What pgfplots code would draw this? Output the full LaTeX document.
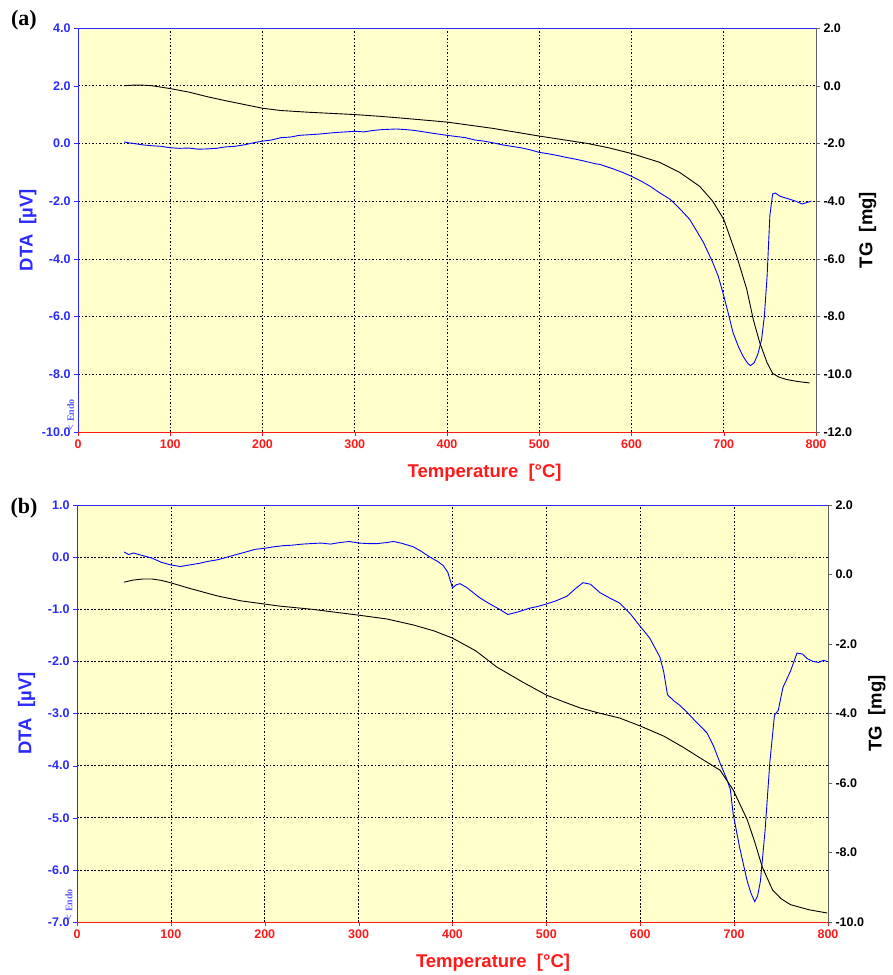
\documentclass[border=0pt]{standalone}
\usepackage{fontspec}
\setmainfont{Liberation Sans}
\newfontfamily\serifb{Liberation Serif}
\usepackage{pgfplots}
\pgfplotsset{compat=1.18}

\definecolor{bgyel}{HTML}{FFFFCC}
\definecolor{dtablue}{HTML}{2B2BFF}
\definecolor{tempred}{HTML}{FF1A1A}
\definecolor{axgray}{HTML}{606060}

\tikzset{endo/.style={rotate=90, anchor=west, text=dtablue!75,
    font=\fontsize{10}{10}\selectfont\serifb\bfseries, inner sep=0pt}}

\pgfplotsset{
  baseax/.style={
    scale only axis, xmin=0, xmax=800, clip mode=individual,
    /pgf/number format/assume math mode=true,
    tick align=outside, major tick length=4pt,
    ticklabel style={font=\bfseries\fontsize{12.5}{13}\selectfont},
    yticklabel style={/pgf/number format/fixed,
      /pgf/number format/fixed zerofill, /pgf/number format/precision=1},
    label style={font=\bfseries\fontsize{18.5}{20}\selectfont},
  },
  dtaax/.style={baseax,
    axis x line*=bottom, axis y line*=left,
    x axis line style={tempred,-}, y axis line style={dtablue,-},
    xtick={0,100,...,800}, xtick style={tempred}, ytick style={dtablue},
    xticklabel style={text=tempred}, yticklabel style={text=dtablue},
    grid=major, grid style={black, line width=0.7pt, dash pattern=on 1.6pt off 1.9pt},
    axis background/.style={fill=bgyel},
    xlabel={Temperature\ \ [°C]}, ylabel={DTA\ \ [µV]},
    xlabel style={text=tempred, anchor=center},
    ylabel style={text=dtablue, anchor=center},
  },
  tgax/.style={baseax,
    axis x line=none, axis y line*=right,
    y axis line style={axgray,-}, ytick style={axgray},
    yticklabel style={text=black},
    ylabel={TG\ \ [mg]}, ylabel style={anchor=center},
  },
}

\begin{document}
\begin{tikzpicture}
\useasboundingbox (0,0) rectangle (893pt,975pt);

% ---------- (a) ----------
\begin{axis}[dtaax, at={(78pt,543pt)}, anchor=south west,
  width=738pt, height=404pt,
  ymin=-10, ymax=4, ytick={-10,-8,...,4},
  xlabel style={at={(axis description cs:0.551,-0.101)}},
  ylabel style={at={(axis description cs:-0.068,0.5)}}]
\addplot[blue, line width=0.9pt] coordinates {
(50,0.05)(55,0.02)(60,0.0)(70,-0.05)(80,-0.08)(90,-0.1)(100,-0.15)(110,-0.17)
(120,-0.16)(130,-0.2)(140,-0.19)(150,-0.17)(160,-0.12)(170,-0.1)(180,-0.05)
(190,0.02)(200,0.08)(210,0.12)(220,0.2)(230,0.22)(240,0.28)(250,0.3)(260,0.32)
(270,0.35)(280,0.38)(290,0.4)(300,0.42)(310,0.4)(320,0.45)(330,0.48)(345,0.5)
(355,0.48)(365,0.45)(375,0.4)(385,0.35)(400,0.28)(410,0.24)(420,0.2)
(430,0.12)(440,0.08)(450,0.02)(460,-0.05)(470,-0.1)(480,-0.15)(490,-0.22)
(500,-0.31)(510,-0.36)(520,-0.42)(530,-0.49)(540,-0.55)(550,-0.62)(560,-0.7)
(566,-0.73)(580,-0.88)(590,-1.0)(600,-1.14)(610,-1.3)(620,-1.48)(630,-1.7)
(642,-1.94)(652,-2.25)(663,-2.63)(670,-3.0)(678,-3.43)(688,-4.12)(694,-4.6)
(699,-5.16)(705,-5.9)(710,-6.55)(716,-7.05)(721,-7.38)(726,-7.62)(729,-7.7)
(733,-7.6)(737,-7.3)(741,-6.8)(744,-6.0)(747,-4.6)(750,-2.5)(753,-1.75)
(756,-1.72)(761,-1.83)(766,-1.88)(772,-1.94)(778,-2.0)(785,-2.1)(790,-2.05)(795,-2.0)
};
\draw[dtablue] (rel axis cs:0,1) -- (rel axis cs:1,1);
\node[endo] at (axis description cs:-0.0099,0.004) {< Endo};
\end{axis}
\begin{axis}[tgax, at={(78pt,543pt)}, anchor=south west,
  width=738pt, height=404pt,
  ymin=-12, ymax=2, ytick={-12,-10,...,2},
  ylabel style={at={(axis description cs:1.070,0.5)}}]
\addplot[black, line width=0.9pt] coordinates {
(50,0.0)(60,0.02)(70,0.02)(80,0.0)(90,-0.05)(100,-0.1)(120,-0.22)(140,-0.38)
(160,-0.52)(180,-0.65)(200,-0.78)(220,-0.86)(250,-0.92)(300,-1.0)(327,-1.06)
(350,-1.12)(400,-1.26)(450,-1.48)(501,-1.75)(552,-2.0)(575,-2.15)(600,-2.35)
(630,-2.65)(652,-3.0)(674,-3.49)(688,-4.0)(700,-4.63)(714,-5.9)(725,-7.06)
(732,-8.1)(739,-8.9)(747,-9.6)(753,-9.97)(760,-10.1)(768,-10.18)(780,-10.25)(793,-10.3)
};
\end{axis}

% ---------- (b) ----------
\begin{axis}[dtaax, at={(77pt,53pt)}, anchor=south west,
  width=751pt, height=417pt,
  ymin=-7, ymax=1, ytick={-7,-6,...,1},
  xlabel style={at={(axis description cs:0.554,-0.098)}},
  ylabel style={at={(axis description cs:-0.067,0.5)}}]
\addplot[blue, line width=0.9pt] coordinates {
(50,0.1)(55,0.05)(60,0.08)(70,0.03)(80,-0.02)(90,-0.1)(100,-0.15)(110,-0.18)
(120,-0.15)(130,-0.12)(140,-0.08)(150,-0.05)(160,0.0)(170,0.05)(180,0.1)
(190,0.15)(200,0.17)(210,0.2)(220,0.22)(230,0.23)(240,0.25)(250,0.26)(260,0.27)
(270,0.25)(280,0.28)(290,0.3)(300,0.27)(310,0.26)(320,0.26)(330,0.28)(337,0.3)
(345,0.27)(358,0.2)(366,0.12)(376,0.0)(384,-0.08)(390,-0.16)(395,-0.29)
(400,-0.59)(404,-0.53)(408,-0.51)(415,-0.58)(422,-0.68)(429,-0.78)(440,-0.9)
(450,-1.0)(459,-1.1)(470,-1.05)(482,-0.98)(490,-0.95)(500,-0.9)(510,-0.84)
(522,-0.75)(530,-0.62)(539,-0.49)(547,-0.52)(557,-0.68)(567,-0.78)(578,-0.88)
(590,-1.1)(600,-1.33)(610,-1.55)(621,-1.92)(625,-2.2)(629,-2.64)(636,-2.76)
(642,-2.84)(650,-2.98)(660,-3.17)(671,-3.37)(678,-3.62)(685,-3.95)(692,-4.25)
(696,-4.46)(699,-4.93)(706,-5.58)(714,-6.22)(718,-6.45)(722,-6.61)(725,-6.5)
(728,-6.22)(733,-5.24)(738,-3.95)(743,-3.03)(747,-2.94)(752,-2.5)(760,-2.19)
(767,-1.84)(773,-1.86)(778,-1.95)(784,-2.0)(790,-2.02)(795,-1.98)(799,-2.0)
};
\draw[dtablue] (rel axis cs:0,1) -- (rel axis cs:1,1);
\node[endo] at (axis description cs:-0.0107,0.004) {< Endo};
\end{axis}
\begin{axis}[tgax, at={(77pt,53pt)}, anchor=south west,
  width=751pt, height=417pt,
  ymin=-10, ymax=2, ytick={-10,-8,...,2},
  ylabel style={at={(axis description cs:1.065,0.5)}}]
\addplot[black, line width=0.9pt] coordinates {
(50,-0.22)(60,-0.16)(70,-0.13)(80,-0.13)(90,-0.17)(100,-0.24)(120,-0.4)
(150,-0.62)(175,-0.76)(216,-0.91)(250,-1.0)(300,-1.17)(330,-1.28)(358,-1.45)
(380,-1.62)(400,-1.83)(425,-2.2)(447,-2.66)(475,-3.1)(500,-3.47)(520,-3.68)
(536,-3.84)(555,-3.98)(578,-4.13)(600,-4.36)(625,-4.65)(645,-4.96)(665,-5.3)
(685,-5.63)(699,-6.2)(714,-7.06)(722,-7.7)(730,-8.42)(741,-9.08)(750,-9.33)
(760,-9.5)(780,-9.65)(799,-9.74)
};
\end{axis}

\node[font=\serifb\bfseries\fontsize{22}{22}\selectfont] at (24pt,955pt) {(a)};
\node[font=\serifb\bfseries\fontsize{22}{22}\selectfont] at (24pt,467pt) {(b)};
\end{tikzpicture}
\end{document}
